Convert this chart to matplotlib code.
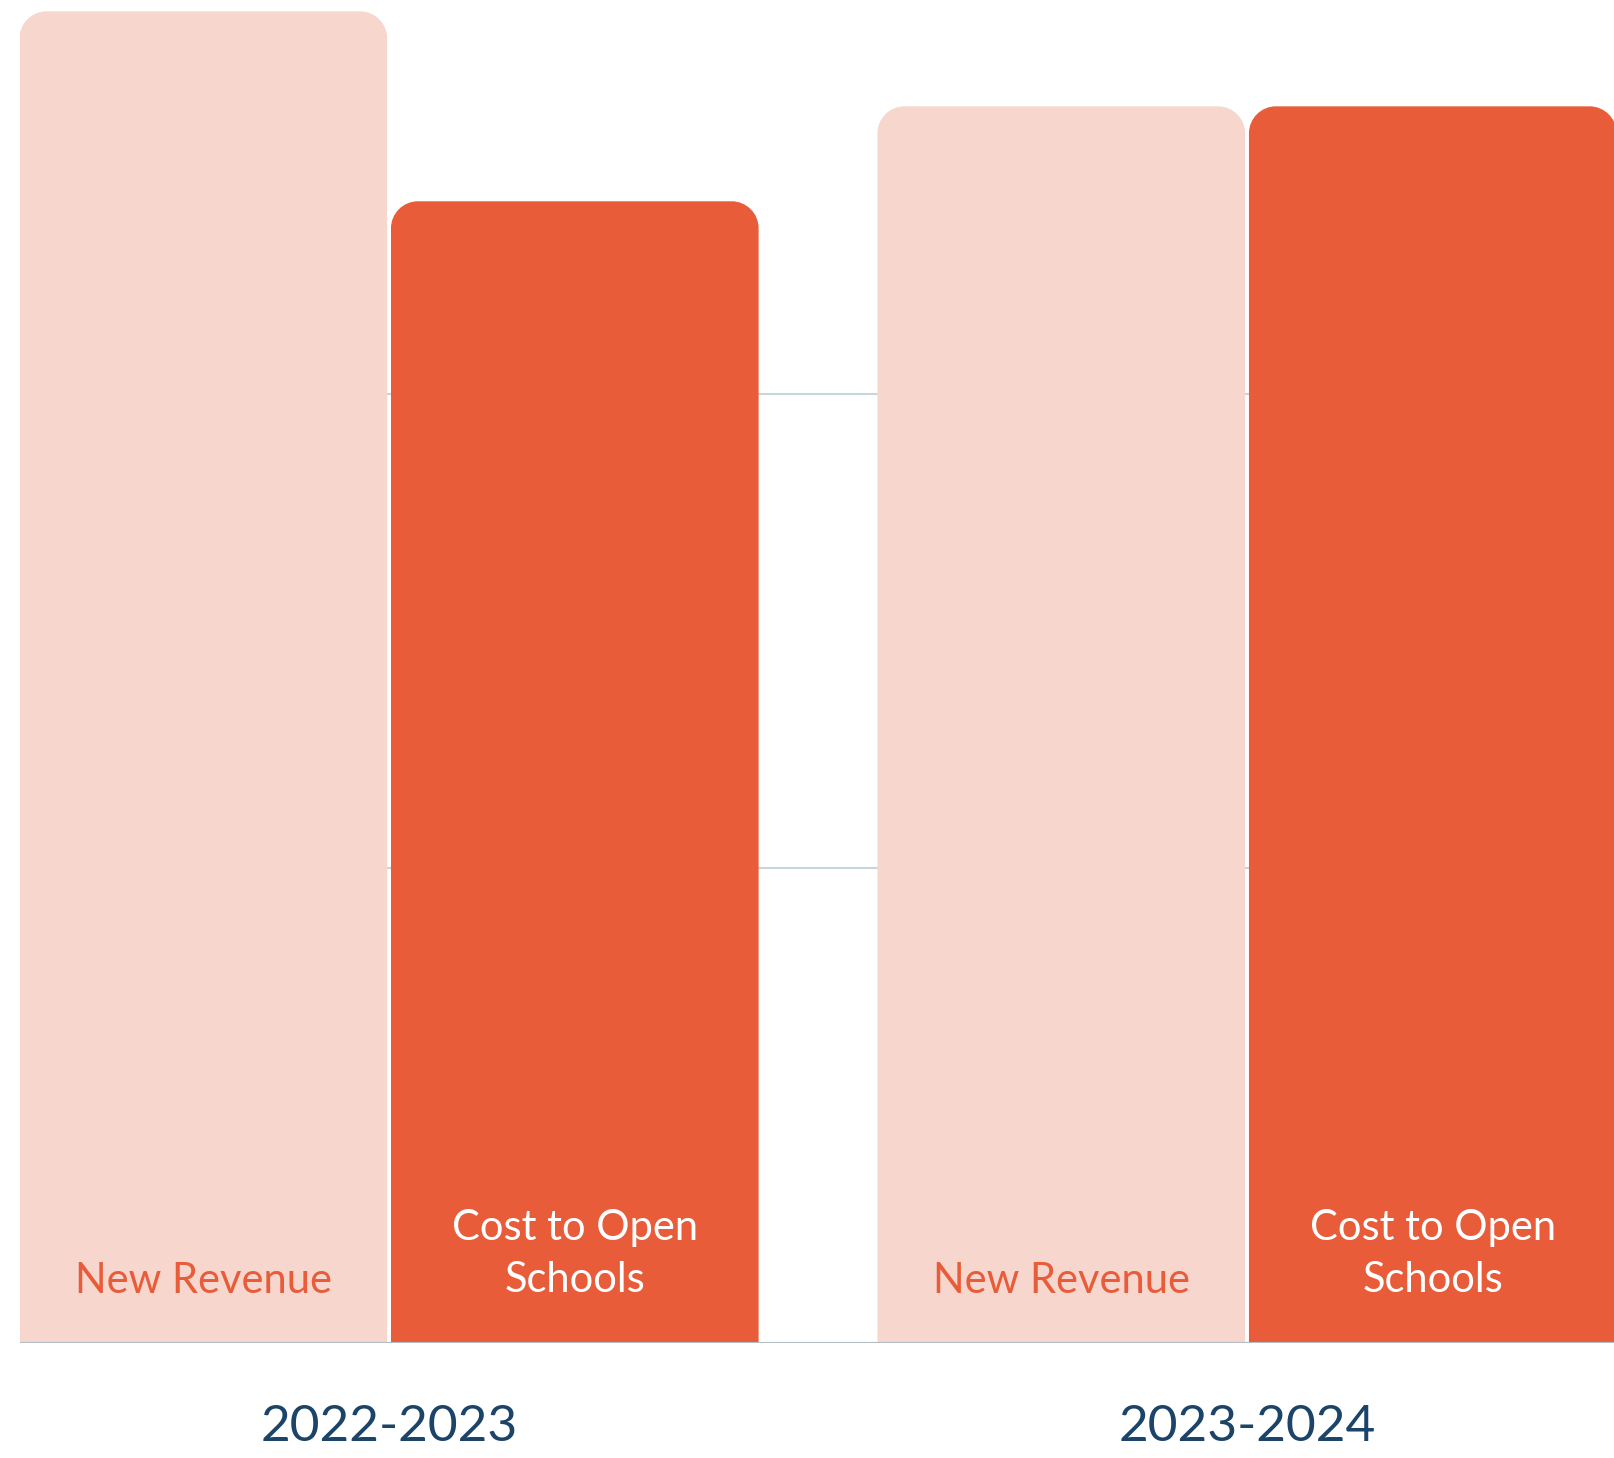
import matplotlib
matplotlib.use('Agg')
import matplotlib.pyplot as plt
from matplotlib.path import Path
from matplotlib.patches import PathPatch

# --- Data ---
years = ['2022-2023', '2023-2024']
series = ['New Revenue', 'Cost to Open\nSchools']
new_revenue = [2.805, 2.605]
cost_to_open = [2.405, 2.605]

light = '#f6d6cd'
dark = '#e85c3a'
navy = '#1c4368'

plt.rcParams['font.family'] = ['Lato', 'DejaVu Sans']

fig = plt.figure(figsize=(16.15, 14.58), dpi=100)
ax = fig.add_axes([0.01214, 0.0789, 0.98786, 0.9211])
ax.set_xlim(-0.4306, 1.4289)
ax.set_ylim(0, 2.829)

offset = 0.2165
width = 0.4285
xs = list(range(len(years)))

b1 = ax.bar([x - offset for x in xs], new_revenue, width, color=light, zorder=2)
b2 = ax.bar([x + offset for x in xs], cost_to_open, width, color=dark, zorder=2)


def rounded_top(rect, rpx=27):
    # swap a plain bar for one with rounded top corners (radius in pixels)
    x0, y0 = rect.get_x(), rect.get_y()
    w, h = rect.get_width(), rect.get_height()
    p0 = ax.transData.transform((0, 0))
    p1 = ax.transData.transform((1, 1))
    rx = rpx / (p1[0] - p0[0])
    ry = rpx / (p1[1] - p0[1])
    k = 0.5523
    x1, y1 = x0 + w, y0 + h
    verts = [
        (x0, y0), (x0, y1 - ry),
        (x0, y1 - ry + k * ry), (x0 + rx - k * rx, y1), (x0 + rx, y1),
        (x1 - rx, y1),
        (x1 - rx + k * rx, y1), (x1, y1 - ry + k * ry), (x1, y1 - ry),
        (x1, y0), (x0, y0),
    ]
    codes = [Path.MOVETO, Path.LINETO,
             Path.CURVE4, Path.CURVE4, Path.CURVE4,
             Path.LINETO,
             Path.CURVE4, Path.CURVE4, Path.CURVE4,
             Path.LINETO, Path.CLOSEPOLY]
    patch = PathPatch(Path(verts, codes), facecolor=rect.get_facecolor(),
                      edgecolor='none', zorder=2)
    rect.set_visible(False)
    ax.add_patch(patch)


for r in list(b1) + list(b2):
    rounded_top(r)

# grid lines behind bars
ax.set_yticks([0, 1, 2])
ax.grid(axis='y', color='#c9d5de', linewidth=1.5, zorder=0)
ax.axhline(0, color='#b4bcc4', linewidth=1.5, zorder=3)
ax.set_xticks([])
ax.tick_params(left=False, labelleft=False)
for s in ax.spines.values():
    s.set_visible(False)

# labels inside bars
for x in xs:
    ax.text(x - offset, 0.131, series[0], ha='center', va='center',
            fontsize=30, color=dark, zorder=4)
    ax.text(x + offset, 0.188, series[1], ha='center', va='center',
            fontsize=30, color='white', linespacing=1.45, zorder=4)
    ax.text(x, -0.176, years[x], ha='center', va='center',
            fontsize=37, color=navy, clip_on=False)

plt.savefig('out.png', dpi=100)
plt.close()
